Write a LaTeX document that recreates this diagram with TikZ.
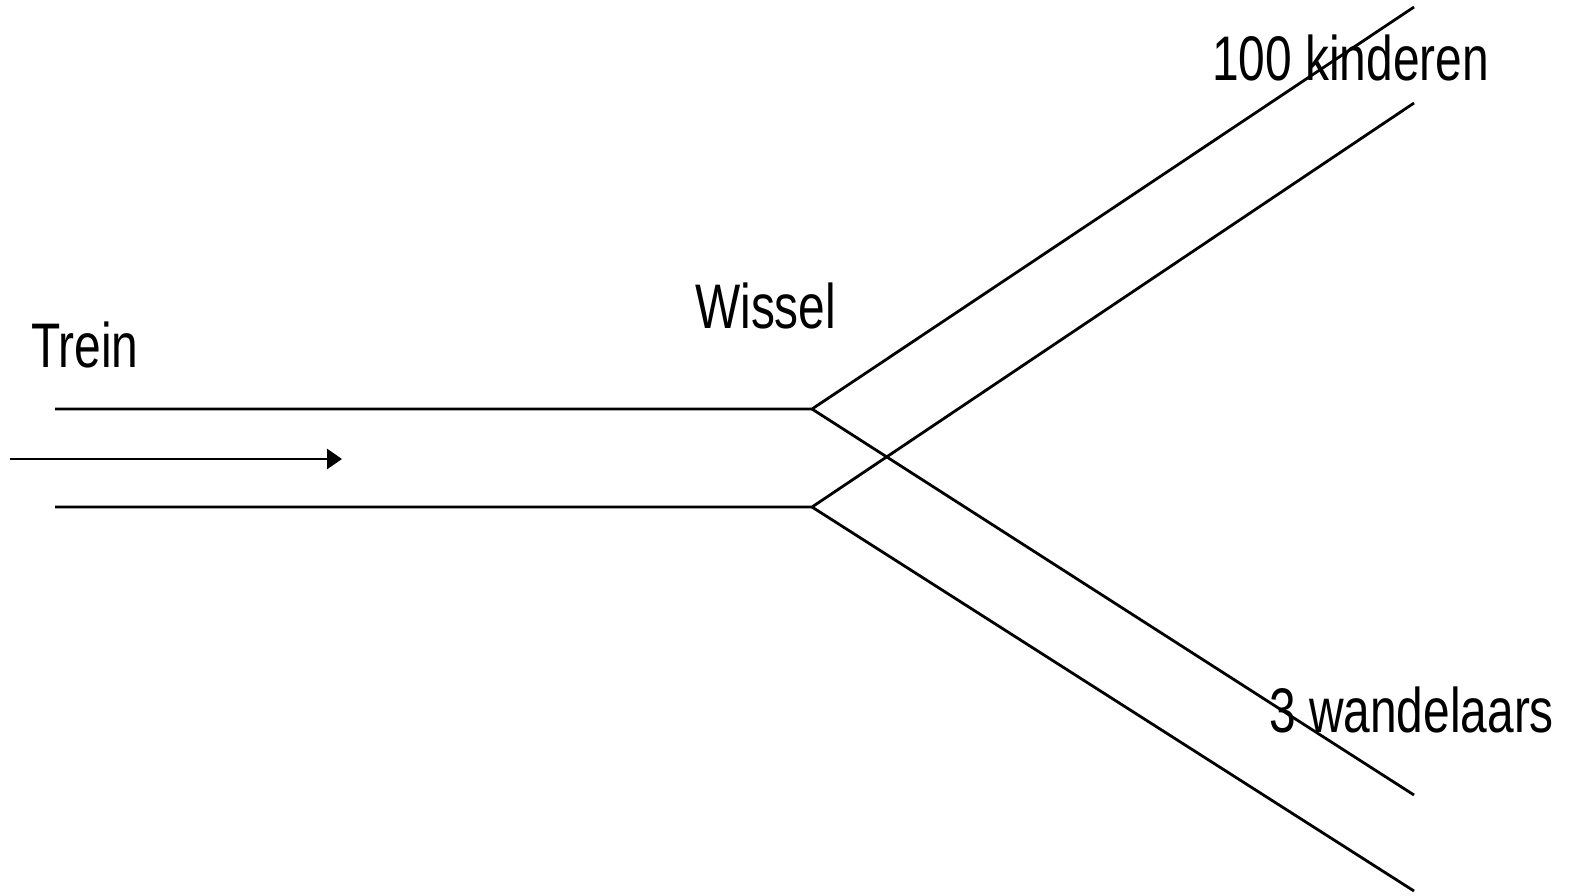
\documentclass[tikz,border=0pt]{standalone}
\usepackage{fontspec}
\setmainfont[FakeStretch=0.76]{Liberation Sans}
\usetikzlibrary{arrows.meta}
\begin{document}
\begin{tikzpicture}[x=1pt,y=-1pt,
  rail/.style={line width=2.8pt,line cap=butt},
  lbl/.style={anchor=base west,inner sep=0pt,font=\fontsize{63}{70}\selectfont}]
\useasboundingbox (0,0) rectangle (1570,895);
% coordinates
\coordinate (tl) at (55,409);
\coordinate (bl) at (55,507);
\coordinate (tj) at (812,409);
\coordinate (bj) at (812,507);
\coordinate (u1) at (1414,7);
\coordinate (u2) at (1414,103);
\coordinate (d1) at (1414,795);
\coordinate (d2) at (1414,891);
\coordinate (as) at (10,459);
\coordinate (ae) at (342,459);
% rails
\draw[rail] (tl) -- (tj) -- (u1);
\draw[rail] (tj) -- (d1);
\draw[rail] (bl) -- (bj) -- (u2);
\draw[rail] (bj) -- (d2);
% arrow
\draw[rail,-{Triangle[length=15pt,width=20pt]}] (as) -- (ae);
% labels
\node[lbl] (trein) at (31,367) {Trein};
\node[lbl] (wissel) at (695,328) {Wissel};
\node[lbl] (kind) at (1212,80) {100 kinderen};
\node[lbl] (wand) at (1269,732) {3 wandelaars};
\end{tikzpicture}
\end{document}
